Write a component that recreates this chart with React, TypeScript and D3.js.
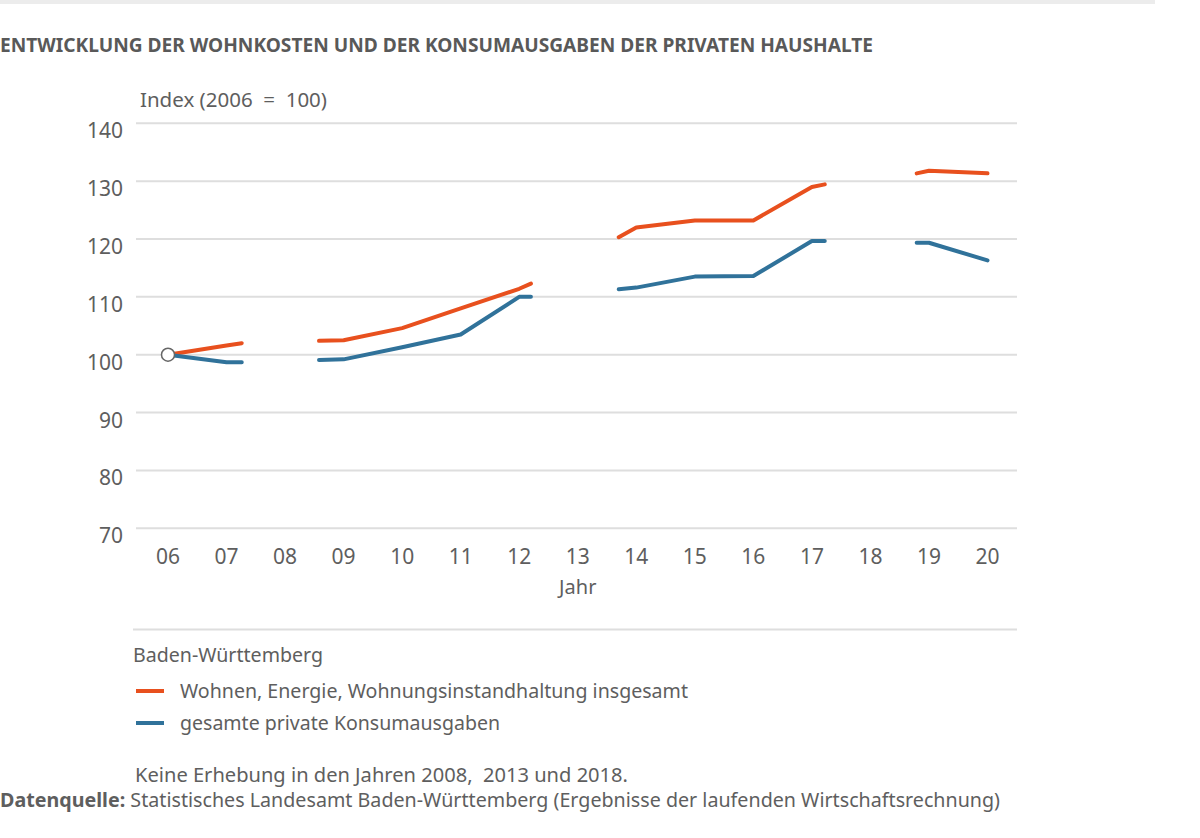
import React from "react";
import * as d3 from "d3";

// Years (fractional values mark where a line segment starts/ends around a survey gap)
const segmentsYears: number[][] = [
  [2006, 2007, 2007.26],
  [2008.58, 2009, 2010, 2011, 2012, 2012.2],
  [2013.7, 2014, 2015, 2016, 2017, 2017.22],
  [2018.79, 2019, 2020],
];
const wohnenValues: number[][] = [
  [100, 101.6, 102.0],
  [102.4, 102.5, 104.6, 108.0, 111.4, 112.3],
  [120.3, 122.0, 123.2, 123.2, 129.0, 129.45],
  [131.35, 131.8, 131.35],
];
const konsumValues: number[][] = [
  [100, 98.7, 98.7],
  [99.1, 99.2, 101.3, 103.5, 110.0, 110.0],
  [111.3, 111.6, 113.5, 113.6, 119.65, 119.65],
  [119.36, 119.36, 116.3],
];
const xTickYears = d3.range(2006, 2021);
const xTickLabels = xTickYears.map((y) => String(y % 100).padStart(2, "0"));
const yTicks = [70, 80, 90, 100, 110, 120, 130, 140];
const seriesNames = [
  "Wohnen, Energie, Wohnungsinstandhaltung insgesamt",
  "gesamte private Konsumausgaben",
];
const seriesColors = ["#e8501e", "#30729a"];

const FONT = "'Noto Sans', sans-serif";
const TXT = "#5e5e5e";

export default function App() {
  const x = d3.scaleLinear().domain([2006, 2020]).range([168, 987.5]);
  const y = d3.scaleLinear().domain([70, 140]).range([528.3, 123.3]);
  const line = d3
    .line<[number, number]>()
    .x((d) => x(d[0]))
    .y((d) => y(d[1]));

  const series = [wohnenValues, konsumValues];

  return (
    <svg
      width={1200}
      height={838}
      style={{ position: "absolute", left: 0, top: 0, display: "block", background: "#fff" }}
      fontFamily={FONT}
    >
      <rect x={0} y={0} width={1155} height={4} fill="#ececec" />
      <text x={0} y={52} fontSize={19.5} fontWeight={700} fill="#595959" textLength={873} lengthAdjust="spacingAndGlyphs">
        ENTWICKLUNG DER WOHNKOSTEN UND DER KONSUMAUSGABEN DER PRIVATEN HAUSHALTE
      </text>
      <text x={140} y={107} fontSize={20} fill={TXT} style={{ whiteSpace: "pre" }} textLength={187} lengthAdjust="spacingAndGlyphs">
        {"Index (2006  =  100)"}
      </text>
      {yTicks.map((t) => (
        <g key={t}>
          <line x1={136} x2={1017} y1={y(t)} y2={y(t)} stroke="#dedede" strokeWidth={2} />
          <text x={123} y={y(t) + 15} fontSize={21} fill={TXT} textAnchor="end">
            {t}
          </text>
        </g>
      ))}
      {xTickYears.map((yr, i) => (
        <text key={yr} x={x(yr)} y={563.5} fontSize={21} fill={TXT} textAnchor="middle">
          {xTickLabels[i]}
        </text>
      ))}
      <text x={x(2013)} y={594} fontSize={20} fill={TXT} textAnchor="middle">
        Jahr
      </text>

      {series.map((vals, si) =>
        segmentsYears.map((yrs, gi) => (
          <path
            key={`${si}-${gi}`}
            d={line(yrs.map((yr, k) => [yr, vals[gi][k]] as [number, number])) || ""}
            fill="none"
            stroke={seriesColors[si]}
            strokeWidth={4}
            strokeLinecap="round"
            strokeLinejoin="round"
          />
        ))
      )}
      <circle cx={x(2006)} cy={y(100)} r={6.5} fill="#fff" stroke="#666" strokeWidth={1.5} />

      <line x1={133} x2={1017} y1={629.5} y2={629.5} stroke="#dedede" strokeWidth={2} />
      <text x={133} y={662} fontSize={20} fill={TXT} textLength={190} lengthAdjust="spacingAndGlyphs">
        Baden-Württemberg
      </text>
      {seriesNames.map((name, i) => (
        <g key={name}>
          <line x1={136} x2={164} y1={691 + i * 32} y2={691 + i * 32} stroke={seriesColors[i]} strokeWidth={4} />
          <text
            x={180}
            y={698 + i * 32}
            fontSize={20}
            fill={TXT}
            textLength={i === 0 ? 508 : 320}
            lengthAdjust="spacingAndGlyphs"
          >
            {name}
          </text>
        </g>
      ))}
      <text x={135} y={782} fontSize={20} fill={TXT} style={{ whiteSpace: "pre" }} textLength={493} lengthAdjust="spacingAndGlyphs">
        {"Keine Erhebung in den Jahren 2008,  2013 und 2018."}
      </text>
      <text x={0} y={807} fontSize={20} fill={TXT} textLength={1000} lengthAdjust="spacingAndGlyphs">
        <tspan fontWeight={700}>Datenquelle:</tspan>
        <tspan> Statistisches Landesamt Baden-Württemberg (Ergebnisse der laufenden Wirtschaftsrechnung)</tspan>
      </text>
    </svg>
  );
}
